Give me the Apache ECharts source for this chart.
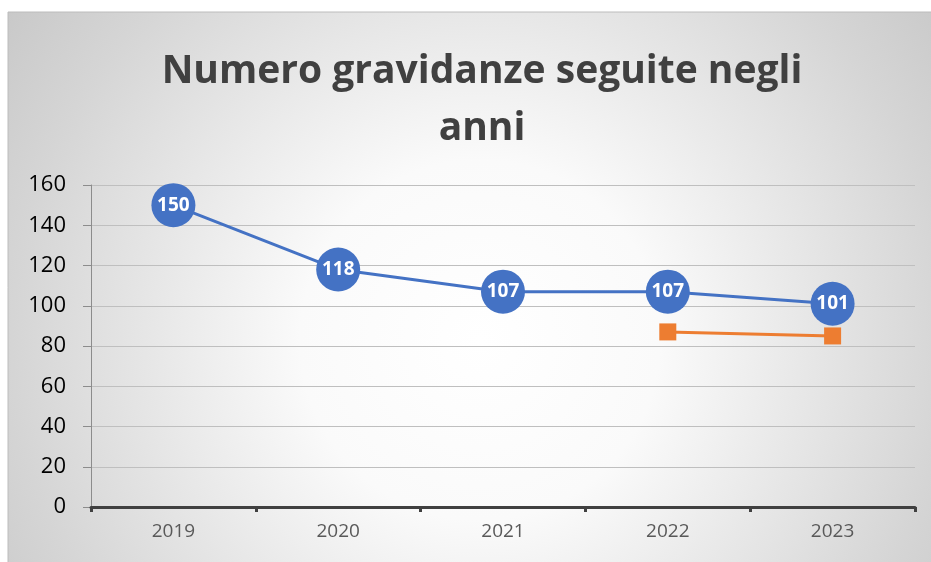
<!DOCTYPE html>
<html>
<head>
<meta charset="utf-8">
<script src="https://cdn.jsdelivr.net/npm/echarts@6/dist/echarts.min.js"></script>
<style>
  html, body { margin: 0; padding: 0; background: #fff; }
  #main { width: 931px; height: 562px; }
</style>
</head>
<body>
<div id="main"></div>
<script>
// dati
var anni = ['2019', '2020', '2021', '2022', '2023'];
var gravidanze = [150, 118, 107, 107, 101];
var secondaSerie = [null, null, null, 87, 85];

var chart = echarts.init(document.getElementById('main'), null, { renderer: 'canvas' });

// sfondo grigio con centro chiaro
var sfondo = new echarts.graphic.RadialGradient(480, 340, 600, [
  { offset: 0, color: '#ffffff' },
  { offset: 0.3, color: '#fafafa' },
  { offset: 0.78, color: '#d5d5d5' },
  { offset: 1, color: '#c6c6c6' }
], true);

var option = {
  animation: false,
  graphic: [{
    type: 'rect',
    z: -10,
    silent: true,
    shape: { x: 8, y: 12, width: 930, height: 560 },
    style: {
      fill: sfondo,
      stroke: '#bcbcbc',
      lineWidth: 1
    }
  }],
  title: {
    text: 'Numero gravidanze seguite negli\nanni',
    left: 477,
    textAlign: 'center',
    top: 38,
    textStyle: {
      fontFamily: 'Open Sans',
      fontWeight: 'bold',
      fontSize: 39,
      lineHeight: 57,
      color: '#404040'
    }
  },
  grid: {
    left: 91,
    right: 16,
    top: 185,
    bottom: 55,
    containLabel: false
  },
  xAxis: {
    type: 'category',
    data: anni,
    boundaryGap: true,
    axisLine: { lineStyle: { color: '#404040', width: 3 } },
    axisTick: { show: true, length: 5, lineStyle: { color: '#404040', width: 3 } },
    axisLabel: {
      fontFamily: 'Open Sans',
      fontSize: 19,
      color: '#595959',
      margin: 15
    },
    z: 5
  },
  yAxis: {
    type: 'value',
    min: 0,
    max: 160,
    interval: 20,
    axisLine: { show: true, lineStyle: { color: '#8c8c8c', width: 1 } },
    axisTick: { show: true, length: 8, lineStyle: { color: '#8c8c8c' } },
    splitLine: { lineStyle: { color: '#bfbfbf', width: 1 } },
    axisLabel: {
      fontFamily: 'Open Sans',
      fontSize: 22,
      color: '#000000',
      margin: 25
    }
  },
  series: [{
    type: 'line',
    data: gravidanze,
    symbol: 'circle',
    symbolSize: 44,
    lineStyle: { color: '#4472C4', width: 3 },
    itemStyle: { color: '#4472C4' },
    label: {
      show: true,
      position: 'inside',
      fontFamily: 'Open Sans',
      fontWeight: 'bold',
      fontSize: 19,
      color: '#ffffff'
    },
    z: 3
  }, {
    type: 'line',
    data: secondaSerie,
    symbol: 'rect',
    symbolSize: 17,
    lineStyle: { color: '#ED7D31', width: 3 },
    itemStyle: { color: '#ED7D31' },
    z: 2
  }]
};

chart.setOption(option);
</script>
</body>
</html>
